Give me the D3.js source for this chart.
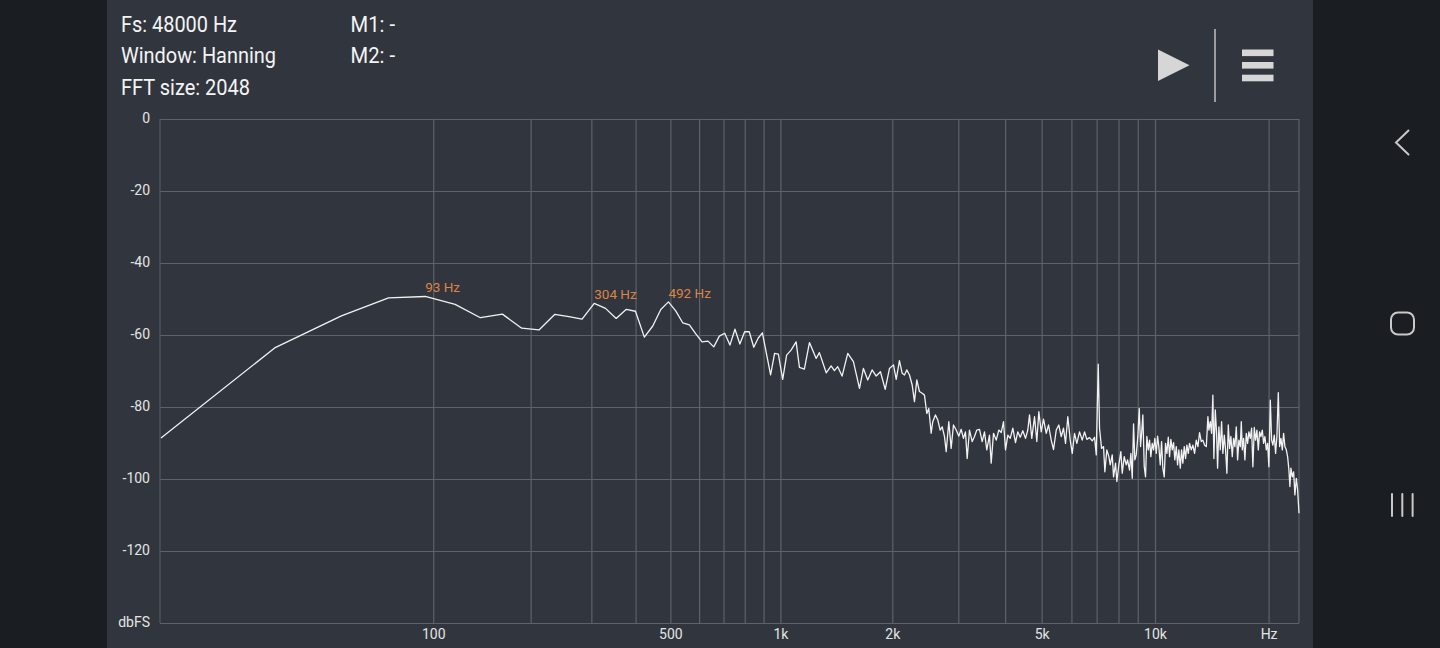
<!DOCTYPE html>
<html>
<head>
<meta charset="utf-8">
<script src="https://cdn.jsdelivr.net/npm/d3@7/dist/d3.min.js"></script>
<style>
  html,body{margin:0;padding:0;background:#1a1d21;overflow:hidden;}
  svg{display:block;}
  text{font-family:Roboto,"Noto Sans",sans-serif;}
</style>
</head>
<body>
<svg id="chart" width="1440" height="648"></svg>
<script>
// ---------------- data ----------------
const sampleRate = 48000;
const fftSize = 2048;
const infoLeft = ["Fs: 48000 Hz", "Window: Hanning", "FFT size: 2048"];
const infoRight = ["M1: -", "M2: -"];

const gridHz = [100,200,300,400,500,600,700,800,900,1000,2000,3000,4000,5000,6000,7000,8000,9000,10000,20000];
const xTickHz = [100,500,1000,2000,5000,10000,20000];
const xTickLabels = ["100","500","1k","2k","5k","10k","Hz"];
const yTickDb = [0,-20,-40,-60,-80,-100,-120,-140];
const yTickLabels = ["0","-20","-40","-60","-80","-100","-120","dbFS"];

const peakHz = [93.75, 304.7, 492.2];
const peakDb = [-49.3, -51.2, -50.8];
const peakLabels = ["93 Hz", "304 Hz", "492 Hz"];

// spectrum (frequency in Hz, level in dBFS)
const spectrumHz = [
  0,23.4,46.9,70.3,93.75,117.2,140.6,164.1,187.5,210.9,234.4,257.8,281.3,304.7,328.1,351.6,375,398.4,421.9,445.3,
  468.8,492.2,515.6,539.1,562.5,585.9,609.4,632.8,656.3,679.7,703.1,726.6,750,773.4,796.9,820.3,843.8,867.2,890.6,
  937.5,961,984,1011,1036,1065,1099,1122,1157,1194,1245,1270,1325,1366,1394,1423,1462,1514,1568,1628,1668,1713,
  1760,1805,1853,1908,1959,2008,2042,2083,
  2118,2149,2179,2216,2253,2285,2318,2356,2396,2430,2465,2495,2532,2557,2600,2637,2676,2710,2748,2777,2822,2863,
  2904,2953,3001,3045,3088,3126,3159,3204,3258,3304,3351,3407,3464,3513,3563,3622,3660,3713,3775,3835,3892,3947,
  3996,4053,4113,4179,4248,4308,4373,4443,4517,4581,4629,4694,4773,4841,4900,4973,5043,5128,5201,5287,5362,5452,
  5538,5620,5700,5770,5851,5939,6012,6097,6183,6286,6391,6482,6573,6683,6794,6890,6963,7047,7104,7192,7280,7338,
  7428,7520,7584,7677,7739,7834,7896,7993,8092,8161,8261,8363,8430,8534,8602,8676,8745,8814,8891,8978,9055,9127,
  9200,9256,9335,9410,9485,9567,9643,9720,9803,9882,9960,10046,10126,10206,10294,10377,10459,10548,10632,10718,
  10810,10896,10983,11077,11165,11254,11351,11442,11532,11632,11725,11817,11918,12014,12110,12214,12311,12439,
  12561,12693,12828,12954,13086,13222,13352,13492,13635,13769,13853,13970,14081,14193,14279,14402,14517,14607,
  14722,14849,14968,15086,15215,15336,15459,15592,15716,15842,15977,16105,16232,16372,16503,16634,16777,16879,
  16983,17118,17254,17402,17541,17680,17832,17975,18117,18272,18417,18565,18725,18873,19024,19187,19340,19493,
  19661,19818,19975,20147,20308,20468,20643,20808,20974,21155,21323,21493,21677,21850,22023,22213,22390,22567,
  22705,22845,23041,23224,23408,23610,23798,24000
];
const spectrumDb = [
  -88.6,-63.6,-54.7,-49.7,-49.3,-51.5,-55.2,-54.2,-58.1,-58.6,-54.3,-54.9,-55.6,-51.2,-52.6,-55.4,-52.9,-53.4,-60.6,-57.5,
  -52.9,-50.8,-53.3,-56.6,-57.2,-59.7,-61.9,-61.7,-63.3,-60.3,-59.5,-62.8,-58.4,-62.5,-59.1,-59.1,-63.4,-60.9,-59.4,
  -71.1,-65.1,-65.3,-72.3,-65.6,-64.2,-61.9,-69.0,-69.5,-62.1,-66.5,-64.9,-70.5,-68.6,-69.9,-68.8,-71.4,-65.1,-67.4,-74.8,-69.3,-72.5,
  -69.7,-71.4,-70.2,-75.1,-69.3,-68.3,-72.3,-67.1,
  -70.6,-71.1,-69.7,-71.1,-73.9,-78.5,-72.5,-75.7,-76.2,-76.7,-81.8,-80.4,-87.3,-84.1,-82.2,-83.6,-86.4,-85.5,-88.2,-92.4,-84.1,-91.5,
  -85.0,-86.4,-88.1,-86.2,-88.7,-86.9,-94.3,-86.4,-89.6,-88.2,-86.4,-86.2,-89.6,-86.9,-91.9,-87.8,-95.6,-87.3,-89.2,-86.4,-87.1,-84.1,
  -91.9,-87.8,-88.7,-85.9,-89.9,-86.9,-88.4,-86.6,-88.7,-86.4,-82.2,-88.7,-82.7,-89.6,-81.3,-86.9,-83.4,-87.3,-85.0,-89.2,-91.8,-86.4,
  -85.0,-88.2,-85.9,-90.1,-82.7,-89.2,-92.9,-87.3,-90.1,-86.9,-89.2,-86.9,-89.0,-88.5,-89.4,-88.4,-93.3,-68.1,-85.9,-91.5,-91.0,-98.0,
  -91.9,-93.8,-96.1,-93.3,-99.4,-95.6,-100.7,-96.1,-92.4,-98.4,-93.8,-96.1,-94.7,-97.5,-92.9,-99.8,-84.7,-94.7,-93.3,-88.1,-80.4,-91.0,
  -86.4,-82.2,-96.6,-99.4,-88.2,-91.9,-89.2,-93.8,-90.1,-91.9,-88.7,-92.9,-88.1,-91.0,-96.1,-89.6,-97.0,-99.4,-90.1,-92.9,
  -88.4,-93.8,-89.0,-91.9,-89.9,-94.7,-91.0,-96.1,-91.9,-97.0,-91.9,-95.6,-91.0,-94.3,-90.6,-92.9,-90.1,-91.9,
  -90.6,-92.9,-89.2,-91.0,-87.1,-89.6,-89.2,-90.6,-91.0,-82.7,-86.4,-84.1,-87.3,-76.7,-94.3,-80.8,-87.3,-97.0,
  -85.5,-91.9,-84.1,-92.9,-87.8,-91.9,-98.4,-85.0,-91.5,-88.2,-93.8,-88.7,-91.0,-85.5,-94.7,-89.2,-91.0,-84.1,
  -91.9,-88.7,-94.7,-87.3,-90.1,-86.9,-88.7,-85.9,-96.6,-85.7,-89.2,-86.4,-91.9,-86.9,-88.2,-86.4,-90.1,-88.2,
  -91.9,-90.1,-96.6,-78.1,-89.2,-90.6,-87.8,-92.9,-88.2,-76.0,-91.0,-88.7,-91.9,-87.3,-91.0,-91.9,-93.8,-97.5,
  -102.1,-97.0,-99.4,-98.0,-104.4,-99.8,-103.0,-109.5
];

// ---------------- drawing ----------------
const svg = d3.select("#chart");
const binHz = sampleRate / fftSize;

// background / panel
svg.append("rect").attr("x",0).attr("y",0).attr("width",1440).attr("height",648).attr("fill","#1a1d21");
svg.append("rect").attr("x",107).attr("y",0).attr("width",1206).attr("height",648).attr("fill","#31363e");

// scales (log frequency axis, offset by one FFT bin as in the app)
const xLog = d3.scaleLog().domain([binHz, 24000 + binHz]).range([161, 1299]);
const x = f => xLog(f + binHz);
const y = d3.scaleLinear().domain([-140, 0]).range([623, 119]);

const plotL = 160, plotR = 1299;

// horizontal grid
const grid = svg.append("g");
grid.selectAll("line.h").data(yTickDb).join("line")
  .attr("x1", plotL).attr("x2", plotR)
  .attr("y1", d => Math.round(y(d)) + 0.5).attr("y2", d => Math.round(y(d)) + 0.5)
  .attr("stroke", "#5d6269").attr("stroke-width", 1.2);
// vertical grid
grid.selectAll("line.v").data(gridHz).join("line")
  .attr("x1", d => x(d)).attr("x2", d => x(d))
  .attr("y1", y(0)).attr("y2", y(-140))
  .attr("stroke", "#5d6269").attr("stroke-width", 1.2);
// frame left / right
grid.append("line").attr("x1", plotL).attr("x2", plotL).attr("y1", y(0)).attr("y2", y(-140))
  .attr("stroke", "#545960").attr("stroke-width", 1.2);
grid.append("line").attr("x1", plotR).attr("x2", plotR).attr("y1", y(0)).attr("y2", y(-140))
  .attr("stroke", "#5d6269").attr("stroke-width", 1.2);

// y labels
svg.append("g").selectAll("text").data(yTickDb).join("text")
  .attr("x", 150).attr("y", d => y(d) - 1.5)
  .attr("text-anchor", "end").attr("dominant-baseline", "central")
  .attr("font-size", 14).attr("fill", "#e4e4e4")
  .text((d, i) => yTickLabels[i]);

// x labels
svg.append("g").selectAll("text").data(xTickHz).join("text")
  .attr("x", d => x(d)).attr("y", 639)
  .attr("text-anchor", "middle")
  .attr("font-size", 14).attr("fill", "#e4e4e4")
  .text((d, i) => xTickLabels[i]);

// spectrum line
const pts = spectrumHz.map((f, i) => ({f, db: spectrumDb[i]}));
const line = d3.line().x(d => x(d.f)).y(d => y(d.db));
svg.append("path").datum(pts)
  .attr("d", line)
  .attr("fill", "none").attr("stroke", "#f2f2f2")
  .attr("stroke-width", 1.3).attr("stroke-linejoin", "round");

// peak labels
svg.append("g").selectAll("text").data(peakHz).join("text")
  .attr("x", d => x(d)).attr("y", (d, i) => y(peakDb[i]) - 4)
  .attr("font-size", 13.5).attr("fill", "#dd8444")
  .text((d, i) => peakLabels[i]);

// header info
const leftW = [116, 155, 129];
svg.append("g").selectAll("text").data(infoLeft).join("text")
  .attr("x", 121).attr("y", (d, i) => 31.7 + i * 31.7)
  .attr("font-size", 22).attr("fill", "#f4f4f4")
  .attr("textLength", (d, i) => leftW[i]).attr("lengthAdjust", "spacingAndGlyphs")
  .text(d => d);
svg.append("g").selectAll("text").data(infoRight).join("text")
  .attr("x", 350.5).attr("y", (d, i) => 31.7 + i * 31.7)
  .attr("font-size", 22).attr("fill", "#f4f4f4")
  .attr("textLength", 44.5).attr("lengthAdjust", "spacingAndGlyphs")
  .text(d => d);

// play / divider / menu icons
svg.append("path").attr("d", "M1158,49.5 L1189.5,65.3 L1158,81 Z").attr("fill", "#d6d6d6");
svg.append("line").attr("x1", 1215).attr("x2", 1215).attr("y1", 29).attr("y2", 102)
  .attr("stroke", "#9c9c9c").attr("stroke-width", 2);
[49.5, 62, 74.7].forEach(yy => {
  svg.append("rect").attr("x", 1242).attr("y", yy).attr("width", 31.5).attr("height", 6.6).attr("fill", "#d6d6d6");
});

// navigation bar icons
const nav = svg.append("g").attr("fill", "none").attr("stroke", "#c9c9c9").attr("stroke-width", 2).attr("stroke-linecap", "round");
nav.append("path").attr("d", "M1408.5,130.5 L1396,142.5 L1408.5,154.5");
nav.append("rect").attr("x", 1391).attr("y", 312.5).attr("width", 23).attr("height", 22).attr("rx", 7);
[1392, 1402.3, 1412.6].forEach(xx => {
  nav.append("line").attr("x1", xx).attr("x2", xx).attr("y1", 494).attr("y2", 516);
});
</script>
</body>
</html>
